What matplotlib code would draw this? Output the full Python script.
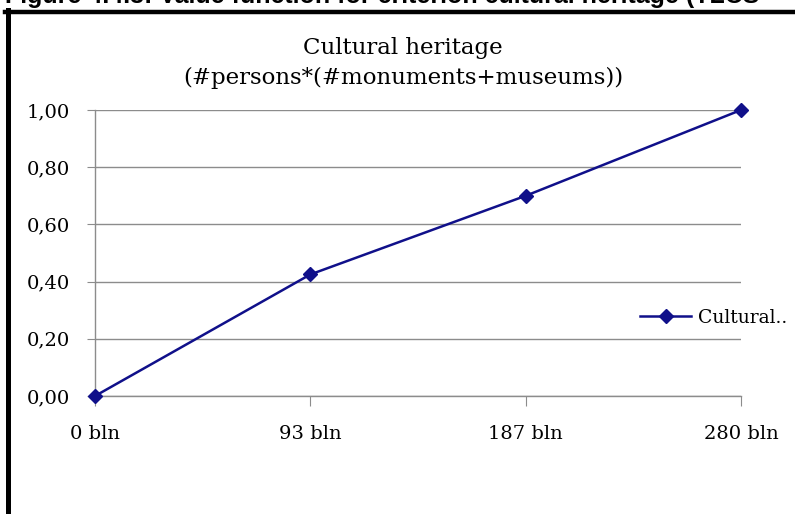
import matplotlib
matplotlib.use("Agg")
import matplotlib.pyplot as plt
from matplotlib.lines import Line2D

categories = ['0 bln', '93 bln', '187 bln', '280 bln']
values = [0.0, 0.425, 0.70, 1.0]
yticks = [0.0, 0.2, 0.4, 0.6, 0.8, 1.0]
series_name = 'Cultural..'
title = 'Cultural heritage\n(#persons*(#monuments+museums))'
caption = 'Figure 4.4.3: Value function for criterion cultural heritage (TLCS'

plt.rcParams['font.family'] = ['DejaVu Serif']

fig = plt.figure(figsize=(7.95, 5.14), dpi=100)
ax = fig.add_axes([95/795, 1-396/514, (741-95)/795, (396-110)/514])

xs = list(range(len(categories)))
ax.plot(xs, values, color='#10108a', lw=1.8, marker='D', markersize=7,
        label=series_name, clip_on=False, zorder=5)

ax.set_xlim(0, len(categories)-1)
ax.set_ylim(0, 1)
ax.set_xticks(xs)
ax.set_xticklabels(categories, fontsize=14)
ax.set_yticks(yticks)
ax.set_yticklabels([f'{v:.2f}'.replace('.', ',') for v in yticks], fontsize=14)

ax.grid(axis='y', color='#8c8c8c', lw=1)
ax.set_axisbelow(True)
for s in ['top', 'right']:
    ax.spines[s].set_visible(False)
for s in ['left', 'bottom']:
    ax.spines[s].set_color('#8c8c8c')
    ax.spines[s].set_linewidth(1)
ax.tick_params(axis='x', direction='out', length=7, color='#8c8c8c', pad=14)
ax.tick_params(axis='y', direction='out', length=6, color='#8c8c8c', pad=12)

fig.text(403/795, 1-63/514, title, ha='center', va='center', fontsize=16.5,
         linespacing=1.45)

ax.legend(loc='center left', bbox_to_anchor=(631/795, 1-318/514),
          bbox_transform=fig.transFigure, frameon=False, fontsize=13.5,
          handlelength=2.7, handletextpad=0.35, borderpad=0)

# frame of the embedding document
fig.add_artist(Line2D([5/795, 1], [1-12/514, 1-12/514], color='black', lw=3.2,
                      transform=fig.transFigure))
fig.add_artist(Line2D([7.5/795, 7.5/795], [0, 1-10/514], color='black', lw=3.6,
                      transform=fig.transFigure))
fig.text(5/795, 1-3/514, caption, ha='left', va='baseline', fontsize=18,
         fontweight='bold', family=['Liberation Sans', 'DejaVu Sans'])

fig.savefig('out.png', dpi=100)
